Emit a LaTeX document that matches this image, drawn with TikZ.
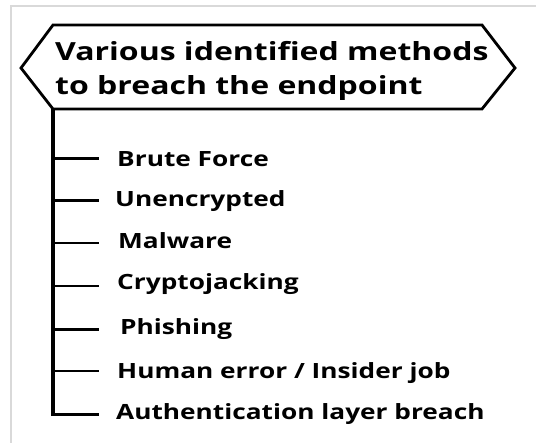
\documentclass[tikz,border=0pt]{standalone}
\usepackage{fontspec}
\setmainfont[FakeStretch=1.25]{Open Sans}
\newfontfamily\headfont[FakeStretch=1.28]{Open Sans}
\begin{document}
\begin{tikzpicture}[x=1pt,y=-1pt,
  frameline/.style={draw=black!15,line width=1.5pt},
  outline/.style={draw=black,line width=2.8pt,line join=miter},
  trunk/.style={draw=black,line width=3.6pt},
  branch/.style={draw=black,line width=2.8pt},
  item/.style={anchor=base west,inner sep=0pt,font=\fontsize{21}{25}\selectfont\bfseries},
  heading/.style={anchor=base west,inner sep=0pt,font=\headfont\fontsize{25}{34}\selectfont\bfseries}]
\useasboundingbox (0,0) rectangle (536,443);
\fill[white] (0,0) rectangle (536,443);
% page frame (top and left edges)
\draw[frameline] (11,443) -- (11,6) -- (536,6);
% title banner
\coordinate (hl) at (21,68);
\coordinate (htl) at (53,25);
\coordinate (htr) at (482,25);
\coordinate (hr) at (515,68);
\coordinate (hbr) at (482,109);
\coordinate (hbl) at (53,109);
\draw[outline] (hl) -- (htl) -- (htr) -- (hr) -- (hbr) -- (hbl) -- cycle;
\node[heading] (title1) at (55,61) {Various identified methods};
\node[heading] (title2) at (55,95) {to breach the endpoint};
% list items
\node[item] (i1) at (117,167) {Brute Force};
\node[item] (i2) at (115,206.7) {Unencrypted};
\node[item] (i3) at (118,249) {Malware};
\node[item] (i4) at (117,289.3) {Cryptojacking};
\node[item] (i5) at (120,334.3) {Phishing};
\node[item] (i6) at (117,378.3) {Human error / Insider job};
\node[item] (i7) at (116,420) {Authentication layer breach};
% branch points on the trunk
\coordinate (b1) at (53,158.3);
\coordinate (b2) at (53,200.7);
\coordinate (b3) at (53,243);
\coordinate (b4) at (53,286);
\coordinate (b5) at (53,329.3);
\coordinate (b6) at (53,371);
\coordinate (b7) at (53,414.3);
\draw[trunk] (hbl) -- ([yshift=1.4pt]b7);
\foreach \k in {1,...,7}{
  \draw[branch] ([xshift=-1.8pt]b\k) -- ([xshift=46pt]b\k);
}
\end{tikzpicture}
\end{document}
